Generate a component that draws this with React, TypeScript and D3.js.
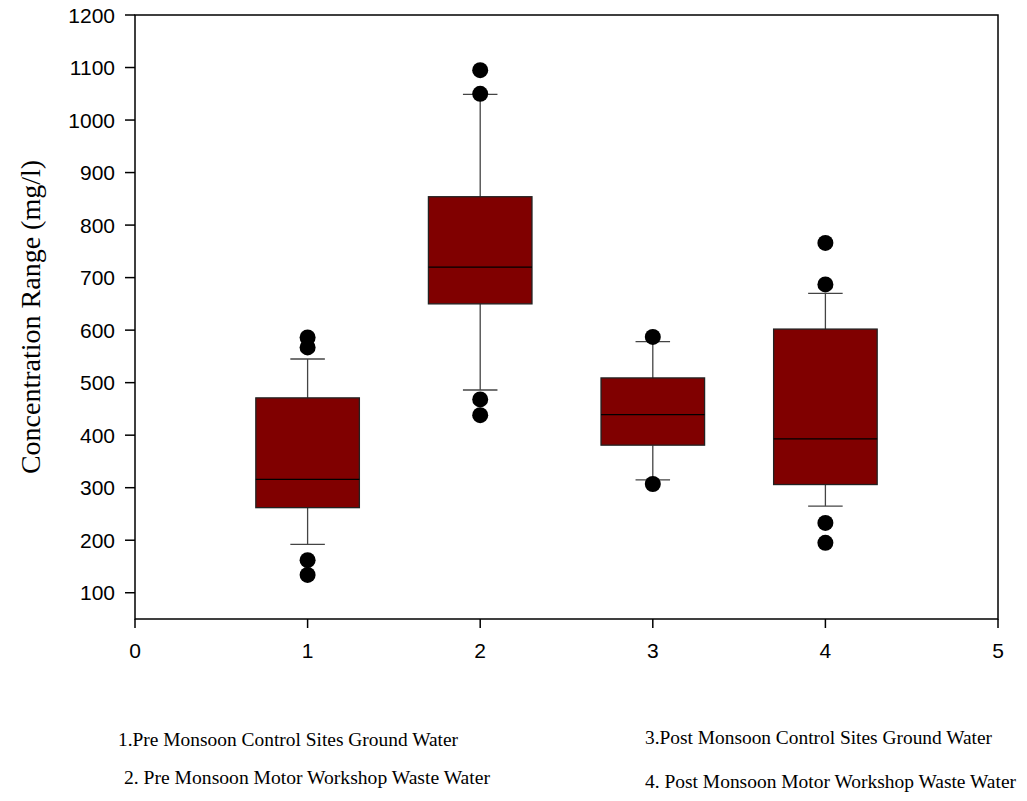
import React from "react";
import * as d3 from "d3";

const categories = [1, 2, 3, 4];
const q1 = [262, 650, 381, 306];
const medians = [316, 720, 439, 393];
const q3 = [471, 854, 509, 602];
const whiskerLow = [192, 486, 315, 265];
const whiskerHigh = [545, 1049, 578, 670];
const outliers: number[][] = [
  [586, 567, 162, 134],
  [1095, 1050, 468, 438],
  [587, 307],
  [766, 687, 233, 195],
];
const xTicks = [0, 1, 2, 3, 4, 5];
const yTicks = [100, 200, 300, 400, 500, 600, 700, 800, 900, 1000, 1100, 1200];
const captions = [
  "1.Pre Monsoon Control Sites Ground Water",
  "2. Pre Monsoon Motor Workshop Waste Water",
  "3.Post Monsoon Control Sites Ground Water",
  "4. Post Monsoon Motor Workshop Waste Water",
];

export default function App() {
  const W = 1027, H = 801;
  const left = 135, right = 998, top = 15, bottom = 619;
  const x = d3.scaleLinear().domain([0, 5]).range([left, right]);
  const y = d3.scaleLinear().domain([50, 1200]).range([bottom, top]);
  const boxHalf = x(0.3) - x(0);
  const capHalf = x(0.1) - x(0);
  const sans = "Arial, 'Liberation Sans', sans-serif";
  const serif = "'Times New Roman', 'Liberation Serif', serif";
  const captionPos = [
    [118, 746, 340],
    [124, 784, 366],
    [645, 744, 347],
    [645, 788, 371],
  ];
  return (
    <svg width={W} height={H} style={{ position: "absolute", left: 0, top: 0, background: "#fff" }}>
      <rect x={left} y={top} width={right - left} height={bottom - top} fill="none" stroke="#000" strokeWidth={1.5} />
      {yTicks.map((t) => (
        <g key={"y" + t}>
          <line x1={left - 10} x2={left} y1={y(t)} y2={y(t)} stroke="#000" strokeWidth={1.5} />
          <text x={left - 20} y={y(t)} dy="0.36em" textAnchor="end" fontFamily={sans} fontSize={21}>
            {t}
          </text>
        </g>
      ))}
      {xTicks.map((t) => (
        <g key={"x" + t}>
          <line x1={x(t)} x2={x(t)} y1={bottom} y2={bottom + 9} stroke="#000" strokeWidth={1.5} />
          <text x={x(t)} y={bottom + 39} textAnchor="middle" fontFamily={sans} fontSize={21}>
            {t}
          </text>
        </g>
      ))}
      {categories.map((c, i) => {
        const cx = x(c);
        return (
          <g key={"b" + c}>
            <line x1={cx} x2={cx} y1={y(whiskerHigh[i])} y2={y(q3[i])} stroke="#444" strokeWidth={1.3} />
            <line x1={cx} x2={cx} y1={y(q1[i])} y2={y(whiskerLow[i])} stroke="#444" strokeWidth={1.3} />
            <line x1={cx - capHalf} x2={cx + capHalf} y1={y(whiskerHigh[i])} y2={y(whiskerHigh[i])} stroke="#444" strokeWidth={1.3} />
            <line x1={cx - capHalf} x2={cx + capHalf} y1={y(whiskerLow[i])} y2={y(whiskerLow[i])} stroke="#444" strokeWidth={1.3} />
            <rect
              x={cx - boxHalf}
              y={y(q3[i])}
              width={2 * boxHalf}
              height={y(q1[i]) - y(q3[i])}
              fill="#800000"
              stroke="#222"
              strokeWidth={1.3}
            />
            <line x1={cx - boxHalf} x2={cx + boxHalf} y1={y(medians[i])} y2={y(medians[i])} stroke="#000" strokeWidth={1.3} />
            {outliers[i].map((o, j) => (
              <circle key={j} cx={cx} cy={y(o)} r={8} fill="#000" />
            ))}
          </g>
        );
      })}
      <text
        transform={`translate(40,317) rotate(-90)`}
        textAnchor="middle"
        fontFamily={serif}
        fontSize={28}
      >
        Concentration Range (mg/l)
      </text>
      {captions.map((c, i) => (
        <text
          key={"c" + i}
          x={captionPos[i][0]}
          y={captionPos[i][1]}
          fontFamily={serif}
          fontSize={19}
          textLength={captionPos[i][2]}
          lengthAdjust="spacingAndGlyphs"
        >
          {c}
        </text>
      ))}
    </svg>
  );
}
